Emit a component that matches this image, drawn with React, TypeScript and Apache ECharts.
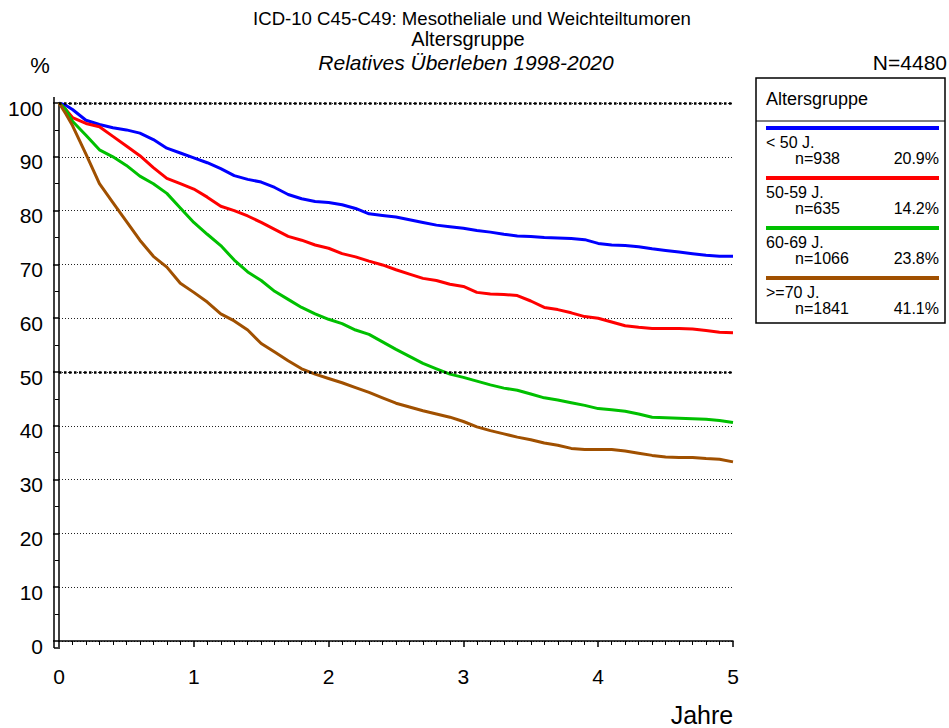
import React, { useEffect, useRef } from "react";
import * as echarts from "echarts";

const FONT = "Liberation Sans, Arial, sans-serif";

const years = [
  0, 0.05, 0.1, 0.2, 0.3, 0.4, 0.5, 0.6, 0.7, 0.8, 0.9, 1.0, 1.1, 1.2, 1.3, 1.4, 1.5, 1.6, 1.7, 1.8, 1.9, 2.0,
  2.1, 2.2, 2.3, 2.4, 2.5, 2.6, 2.7, 2.8, 2.9, 3.0, 3.1, 3.2, 3.3, 3.4, 3.5, 3.6, 3.7, 3.8, 3.9, 4.0,
  4.1, 4.2, 4.3, 4.4, 4.5, 4.6, 4.7, 4.8, 4.9, 5.0,
];

const under50 = [
  100, 99.6, 98.8, 96.8, 96.0, 95.4, 95.0, 94.4, 93.2, 91.6, 90.7, 89.8, 88.9, 87.8, 86.5, 85.8, 85.3, 84.3,
  83.0, 82.2, 81.7, 81.5, 81.1, 80.4, 79.4, 79.1, 78.8, 78.3, 77.8, 77.3, 77.0, 76.7, 76.3, 76.0, 75.6, 75.3,
  75.2, 75.0, 74.9, 74.8, 74.6, 73.9, 73.6, 73.5, 73.3, 72.9, 72.6, 72.3, 72.0, 71.7, 71.5, 71.5,
];

const age5059 = [
  100, 98.8, 97.3, 96.2, 95.6, 93.8, 92.0, 90.2, 88.0, 86.0, 85.0, 84.0, 82.5, 80.8, 80.0, 79.0, 77.8, 76.5,
  75.2, 74.5, 73.6, 73.0, 72.0, 71.4, 70.6, 69.9, 69.0, 68.2, 67.4, 67.0, 66.3, 65.9, 64.8, 64.5, 64.4, 64.2,
  63.2, 62.0, 61.6, 61.0, 60.3, 60.0, 59.3, 58.6, 58.3, 58.1, 58.1, 58.1, 58.0, 57.7, 57.4, 57.3,
];

const age6069 = [
  100, 98.8, 96.6, 94.0, 91.3, 90.0, 88.4, 86.4, 85.0, 83.2, 80.5, 77.8, 75.6, 73.5, 70.8, 68.6, 67.0, 65.0,
  63.5, 62.0, 60.8, 59.8, 59.0, 57.8, 57.0, 55.6, 54.2, 52.9, 51.6, 50.6, 49.6, 49.0, 48.3, 47.6, 47.0, 46.6,
  45.9, 45.2, 44.8, 44.3, 43.8, 43.2, 43.0, 42.7, 42.2, 41.6, 41.5, 41.4, 41.3, 41.2, 41.0, 40.6,
];

const age70plus = [
  100, 98.0, 95.8, 90.5, 85.0, 81.5, 78.0, 74.5, 71.5, 69.5, 66.5, 64.8, 63.0, 60.8, 59.5, 57.8, 55.3, 53.7,
  52.1, 50.6, 49.6, 48.8, 48.0, 47.1, 46.2, 45.2, 44.2, 43.5, 42.8, 42.2, 41.6, 40.8, 39.8, 39.1, 38.5, 37.9,
  37.4, 36.8, 36.4, 35.8, 35.6, 35.6, 35.6, 35.3, 34.9, 34.5, 34.2, 34.1, 34.1, 33.9, 33.8, 33.3,
];

const groupLabels = ["< 50 J.", "50-59 J.", "60-69 J.", ">=70 J."];
const groupN = ["n=938", "n=635", "n=1066", "n=1841"];
const groupPct = ["20.9%", "14.2%", "23.8%", "41.1%"];
const groupColors = ["#0000ff", "#ff0000", "#00c000", "#a05000"];
const groupValues = [under50, age5059, age6069, age70plus];

const titleLines = [
  "ICD-10 C45-C49: Mesotheliale und Weichteiltumoren",
  "Altersgruppe",
  "Relatives Überleben 1998-2020",
];

function txt(text: string, x: number, y: number, size: number, align = "left", extra: any = {}) {
  return {
    type: "text",
    silent: true,
    style: {
      text,
      x,
      y,
      font: `${extra.italic ? "italic " : ""}${size}px ${FONT}`,
      fill: "#000",
      textAlign: align,
      textVerticalAlign: "middle",
    },
  };
}

export default function App() {
  const ref = useRef<HTMLDivElement>(null);
  useEffect(() => {
    if (!ref.current) return;
    const chart = echarts.init(ref.current, undefined, { renderer: "svg" });

    const graphics: any[] = [
      txt(titleLines[0], 472, 18, 18.6, "center"),
      txt(titleLines[1], 468, 38.5, 20, "center"),
      txt(titleLines[2], 466, 62, 21, "center", { italic: true }),
      txt("%", 40, 65, 22, "center"),
      txt("N=4480", 947, 62, 21, "right"),
      txt("Jahre", 702, 715, 25, "center"),
      // axis line extensions
      { type: "line", silent: true, shape: { x1: 54, y1: 97, x2: 54, y2: 648 }, style: { stroke: "#000", lineWidth: 1.5 } },
      { type: "line", silent: true, shape: { x1: 54, y1: 648, x2: 60, y2: 648 }, style: { stroke: "#000", lineWidth: 1.5 } },
      // legend box
      {
        type: "rect",
        silent: true,
        shape: { x: 756, y: 78, width: 189, height: 245 },
        style: { fill: "#fff", stroke: "#000", lineWidth: 1.5 },
      },
      { type: "line", silent: true, shape: { x1: 756, y1: 121, x2: 945, y2: 121 }, style: { stroke: "#000", lineWidth: 1 } },
      txt("Altersgruppe", 766, 99, 18, "left"),
    ];
    groupLabels.forEach((lab, i) => {
      const ly = 128 + 50 * i;
      graphics.push({
        type: "line",
        silent: true,
        shape: { x1: 766, y1: ly, x2: 939, y2: ly },
        style: { stroke: groupColors[i], lineWidth: 4 },
      });
      graphics.push(txt(lab, 766, ly + 14, 16, "left"));
      graphics.push(txt(groupN[i], 795, ly + 30, 16, "left"));
      graphics.push(txt(groupPct[i], 939, ly + 30, 16, "right"));
    });

    const lineSeries = groupValues.map((vals, i) => ({
      type: "line",
      name: groupLabels[i],
      data: years.map((t, k) => [t, vals[k]]),
      showSymbol: false,
      symbol: "none",
      z: 3,
      lineStyle: { color: groupColors[i], width: 3 },
      itemStyle: { color: groupColors[i] },
    }));

    chart.setOption({
      animation: false,
      backgroundColor: "#fff",
      textStyle: { fontFamily: FONT },
      grid: { left: 59, right: 216, top: 103, bottom: 87, containLabel: false },
      xAxis: {
        type: "value",
        min: 0,
        max: 5,
        interval: 1,
        offset: 7,
        axisLine: { show: true, lineStyle: { color: "#000", width: 1.5 } },
        axisTick: { show: true, length: 6, lineStyle: { color: "#000", width: 1.5 } },
        minorTick: { show: true, splitNumber: 10, length: 4, lineStyle: { color: "#000", width: 1 } },
        axisLabel: { color: "#000", fontSize: 21, margin: 18, fontFamily: FONT },
        splitLine: { show: false },
      },
      yAxis: {
        type: "value",
        min: 0,
        max: 100,
        interval: 10,
        offset: 5,
        axisLine: { show: true, lineStyle: { color: "#000", width: 1.5 } },
        axisTick: { show: true, length: 6, lineStyle: { color: "#000", width: 1.5 } },
        minorTick: { show: true, splitNumber: 2, length: 4, lineStyle: { color: "#000", width: 1 } },
        axisLabel: {
          color: "#000",
          margin: 11,
          formatter: (v: number) => `{s|${v}}`,
          rich: { s: { fontSize: 21, fontFamily: FONT, color: "#000", padding: [10, 0, 0, 0] } },
        },
        splitLine: { show: true, lineStyle: { color: "#222", width: 1, type: [1, 2] } },
      },
      series: [
        {
          type: "line",
          data: [],
          z: 1,
          markLine: {
            silent: true,
            symbol: "none",
            label: { show: false },
            lineStyle: { color: "#000", width: 2.5, type: [2.5, 2.5] },
            data: [{ yAxis: 50 }, { yAxis: 100 }],
          },
        },
        ...lineSeries,
      ],
      graphic: graphics,
    });
    return () => chart.dispose();
  }, []);
  return <div ref={ref} style={{ position: "fixed", left: 0, top: 0, width: 949, height: 728 }} />;
}
